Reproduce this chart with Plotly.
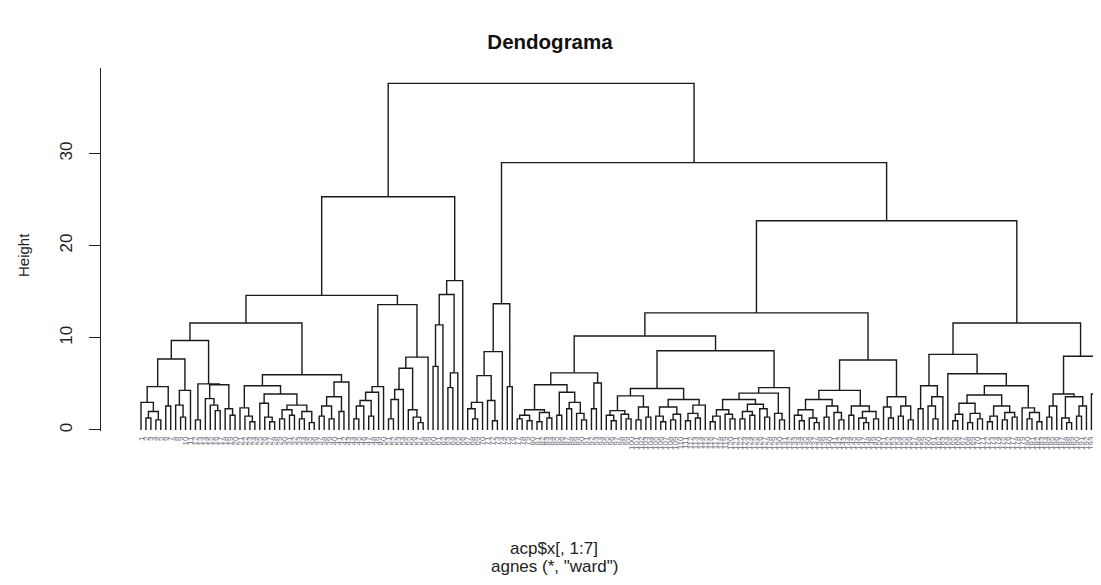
import plotly.graph_objects as go

# ---------------- data: agglomerative tree (leaf = 0, node = [height, left, right]) ----------------
n47 = [4.7, [3.0, 0, [2.0, [1.3, 0, 0], [1.1, 0, 0]]], [2.6, 0, 0]]
n43 = [4.3, [2.7, 0, [1.4, 0, 0]], 0]
n50 = [5.0, [1.1, 0, 0], [4.9, [3.4, 0, [2.7, 0, [2.1, 0, 0]]], [2.3, 0, [1.6, 0, 0]]]]
cl_A1a = [9.7, [7.7, n47, n43], n50]

n24 = [2.4, 0, [1.5, 0, [0.9, 0, 0]]]
n39 = [3.9, [2.9, 0, [1.4, 0, [0.9, 0, 0]]], [2.7, [2.2, [1.2, 0, 0], [1.6, 0, 0]], [2.0, [1.2, 0, 0], [0.8, 0, 0]]]]
n52 = [5.2, [3.6, [2.6, [1.5, 0, 0], [1.2, 0, 0]], [2.0, 0, 0]], 0]
cl_A1b = [6.0, [4.8, n24, n39], n52]

ladder = [4.7, [4.1, [3.2, [2.6, [1.2, 0, 0], 0], [1.5, 0, 0]], 0], 0]
n79 = [7.9, [6.7, [4.4, [3.3, [1.2, 0, 0], 0], 0], [2.2, 0, [1.4, 0, [0.8, 0, 0]]]], 0]
cl_A2 = [13.6, ladder, n79]

cl_AR = [16.2, [14.7, [11.4, [6.9, 0, 0], 0], [6.2, [4.6, 0, 0], 0]], 0]

cl_A = [25.3, [14.6, [11.6, cl_A1a, cl_A1b], cl_A2], cl_AR]

cl_B1 = [13.7, [8.5, [5.9, [3.0, [2.3, 0, [1.2, 0, 0]], 0], [3.2, 0, [1.0, 0, 0]]], 0], [4.7, 0, 0]]

n22 = [2.2, [1.6, [1.2, 0, 0], [1.0, 0, 0]], [1.9, [0.9, 0, 0], [1.3, 0, 0]]]
n41 = [4.1, [1.6, 0, 0], [3.0, [2.3, 0, 0], [1.8, 0, [1.1, 0, 0]]]]
n51 = [5.1, [2.3, 0, 0], 0]
cl_C1a = [6.2, [4.9, n22, n41], n51]

n37 = [3.7, [2.1, [1.6, 0, [1.0, 0, 0]], [1.7, 0, [1.2, 0, 0]]], [2.5, [1.1, 0, 0], [1.4, 0, 0]]]
n33 = [3.3, [2.5, [1.5, 0, [0.9, 0, 0]], [1.7, [1.1, 0, 0], 0]], [2.7, [1.8, [1.0, 0, 0], [1.3, 0, 0]], 0]]
n33b = [3.3, [2.2, [1.5, [0.9, 0, 0], 0], [1.7, 0, [1.2, 0, 0]]], [2.8, [2.0, [1.2, 0, 0], [1.6, 0, 0]], [2.3, 0, [1.4, 0, 0]]]]
cl_C1b = [8.6, [4.5, n37, n33], [4.6, [4.0, n33b, [1.8, 0, [1.1, 0, 0]]], 0]]

n33c = [3.3, [2.2, [1.6, 0, [1.0, 0, 0]], [1.3, 0, [0.8, 0, 0]]], [2.6, [1.4, 0, 0], [1.9, 0, [1.1, 0, 0]]]]
n26 = [2.6, [1.6, 0, 0], [2.0, [1.3, 0, [0.8, 0, 0]], [1.2, 0, 0]]]
n36 = [3.6, [2.5, 0, [1.3, 0, 0]], [2.6, [1.5, 0, 0], [1.1, 0, 0]]]
cl_C1c = [7.6, [4.3, n33c, n26], n36]

cl_C1 = [12.7, [10.2, cl_C1a, cl_C1b], cl_C1c]

n48c = [4.8, [2.3, 0, 0], [3.6, [2.6, 0, [1.2, 0, 0]], 0]]
n38 = [3.8, [2.9, [1.7, [1.0, 0, 0], 0], [1.8, [0.8, 0, 0], [1.2, 0, 0]]],
       [2.6, [1.5, [0.9, 0, 0], 0], [1.9, [1.1, 0, 0], [1.4, 0, 0]]]]
n24c = [2.4, 0, [1.9, [1.2, 0, 0], [0.9, 0, 0]]]
n39a = [3.9, [2.6, [1.4, 0, 0], 0], [3.6, [1.3, 0, [0.8, 0, 0]], [2.6, [1.5, 0, 0], 0]]]
n39b = [3.9, 0, [3.0, [1.4, 0, 0], [2.0, 0, 0]]]
cl_C2 = [11.6, [8.2, n48c, [6.1, 0, [4.8, n38, n24c]]], [8.0, n39a, n39b]]

root = [37.6, cl_A, [29.0, cl_B1, [22.7, cl_C1, cl_C2]]]

y_ticks = [0, 10, 20, 30]

# ---------------- layout of the tree ----------------
xs, ys = [], []
counter = [0]


def place(node):
    if node == 0:
        x = counter[0]
        counter[0] += 1
        return x, 0.0
    h, left, right = node
    xl, hl = place(left)
    xr, hr = place(right)
    xs.extend([xl, xl, xr, xr, None])
    ys.extend([hl, h, h, hr, None])
    return (xl + xr) / 2.0, h


place(root)
n_leaves = counter[0]
leaf_labels = [str(i + 1) for i in range(n_leaves)]
X_MAX = 193.94                      # right end of the visible x range (leaf units)
shown = [i for i in range(n_leaves) if i <= X_MAX - 1.5]

fig = go.Figure()
fig.add_trace(go.Scatter(x=xs, y=ys, mode="lines",
                         line=dict(color="#1a1a1a", width=1.4),
                         hoverinfo="skip", showlegend=False))

FONT = "Liberation Sans, Arial, sans-serif"
W, H = 1093, 577          # page has an 8px body margin
PL, PT, PB = 93, 60, 154  # plot area in window px: x 101..1101, y 68..431
PW, PH = W - PL, H - PT - PB


def px(xw):   # window x -> paper x
    return (xw - 8 - PL) / PW


def py(yw):   # window y -> paper y
    return (H - PB - (yw - 8)) / PH


fig.update_layout(
    width=W, height=H,
    margin=dict(l=PL, r=0, t=PT, b=PB),
    paper_bgcolor="white", plot_bgcolor="white",
    font=dict(family=FONT, color="#222"),
    title=dict(text="<b>Dendograma</b>", x=(550 - 8) / W, xref="container", xanchor="center",
               y=1 - (42 - 8) / H, yref="container", yanchor="middle",
               font=dict(size=20.5, family=FONT, color="#111")),
    xaxis=dict(range=[-8.08, X_MAX], showgrid=False, zeroline=False, showline=False,
               tickmode="array", tickvals=shown, ticktext=[leaf_labels[i] for i in shown],
               tickangle=-90, ticks="", ticklabelstandoff=3,
               tickfont=dict(size=8, color="#6e6e7c", family=FONT)),
    yaxis=dict(range=[-0.11, 39.27], showgrid=False, zeroline=False,
               showline=True, linecolor="#222", linewidth=1.2,
               tickmode="array", tickvals=y_ticks, ticktext=[str(v) for v in y_ticks],
               ticks="outside", ticklen=11, tickwidth=1.2, tickcolor="#222",
               tickangle=-90, ticklabelstandoff=10,
               tickfont=dict(size=17, color="#222", family=FONT)),
    annotations=[
        dict(text="Height", xref="paper", yref="paper", x=px(23), y=py(255),
             textangle=-90, showarrow=False, xanchor="center", yanchor="middle",
             font=dict(size=15, color="#222", family=FONT)),
        dict(text="acp$x[, 1:7]", xref="paper", yref="paper", x=px(554), y=py(548),
             showarrow=False, xanchor="center", yanchor="middle",
             font=dict(size=17, color="#222", family=FONT)),
        dict(text='agnes (*, "ward")', xref="paper", yref="paper", x=px(554), y=py(566),
             showarrow=False, xanchor="center", yanchor="middle",
             font=dict(size=17, color="#222", family=FONT)),
    ],
)

fig.write_html("out.html")
